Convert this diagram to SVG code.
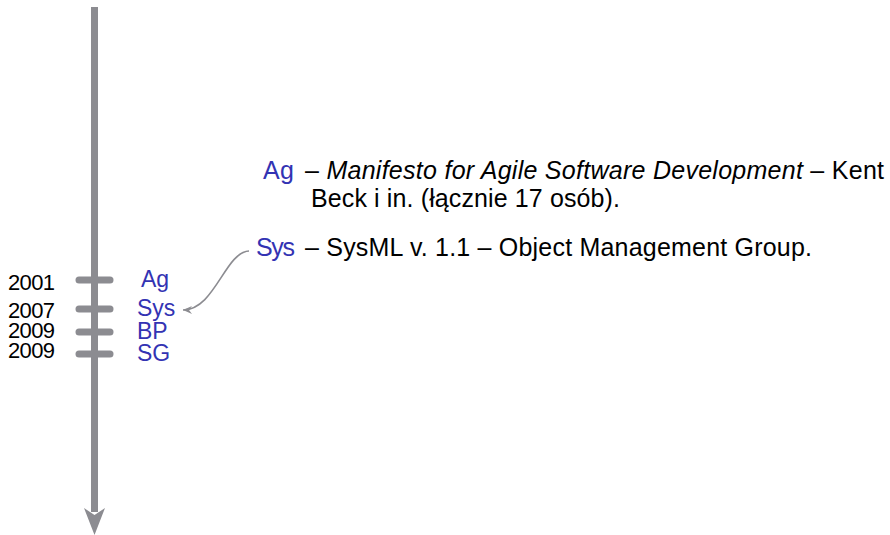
<svg xmlns="http://www.w3.org/2000/svg" width="890" height="535" viewBox="0 0 890 535">
  <style>
    text { font-family: "Liberation Sans", "DejaVu Sans", sans-serif; }
    .year { fill: #000; font-size: 22px; }
    .lbl { fill: #3333b3; font-size: 23px; }
    .desc { font-size: 25px; }
    .key { fill: #3333b3; }
    .body { fill: #000; }
    .tick { stroke: #8c8c91; stroke-width: 7; stroke-linecap: round; }
  </style>
  <defs>
    <marker id="head" viewBox="0 0 10 10" refX="9" refY="5" markerWidth="10" markerHeight="10" markerUnits="userSpaceOnUse" orient="auto">
      <path d="M0,1 L9,5 L0,9 L3,5 Z" fill="#8c8c91"/>
    </marker>
  </defs>

  <!-- time axis -->
  <g id="axis">
    <rect x="91" y="7" width="7" height="505" fill="#8c8c91"/>
    <path d="M84,508 L94.5,535 L105,508 L94.5,515 Z" fill="#8c8c91"/>
  </g>

  <g id="ev-ag">
    <line class="tick" x1="79" y1="280" x2="110" y2="280"/>
    <text class="year" x="8" y="290" textLength="47">2001</text>
    <text class="lbl" x="141" y="287">Ag</text>
  </g>
  <g id="ev-sys">
    <line class="tick" x1="79" y1="309" x2="110" y2="309"/>
    <text class="year" x="8" y="318" textLength="47">2007</text>
    <text class="lbl" x="137" y="316">Sys</text>
  </g>
  <g id="ev-bp">
    <line class="tick" x1="79" y1="332" x2="110" y2="332"/>
    <text class="year" x="8" y="338" textLength="47">2009</text>
    <text class="lbl" x="137" y="339">BP</text>
  </g>
  <g id="ev-sg">
    <line class="tick" x1="79" y1="354" x2="110" y2="354"/>
    <text class="year" x="8" y="358" textLength="47">2009</text>
    <text class="lbl" x="137" y="361">SG</text>
  </g>

  <!-- descriptions -->
  <g id="desc-ag">
    <text class="desc key" x="263" y="179" textLength="31">Ag</text>
    <text class="desc body" x="305" y="179" textLength="579">– <tspan font-style="italic">Manifesto for Agile Software Development</tspan> – Kent</text>
    <text class="desc body" x="311" y="207" textLength="309">Beck i in. (łącznie 17 osób).</text>
  </g>
  <g id="desc-sys">
    <text class="desc key" x="256" y="256" textLength="39">Sys</text>
    <text class="desc body" x="305" y="256" textLength="507">– SysML v. 1.1 – Object Management Group.</text>
  </g>

  <g id="connectors">
    <path d="M249,251 C225,252 215,310 183,310" fill="none" stroke="#8c8c91" stroke-width="1.6" marker-end="url(#head)"/>
  </g>
</svg>
